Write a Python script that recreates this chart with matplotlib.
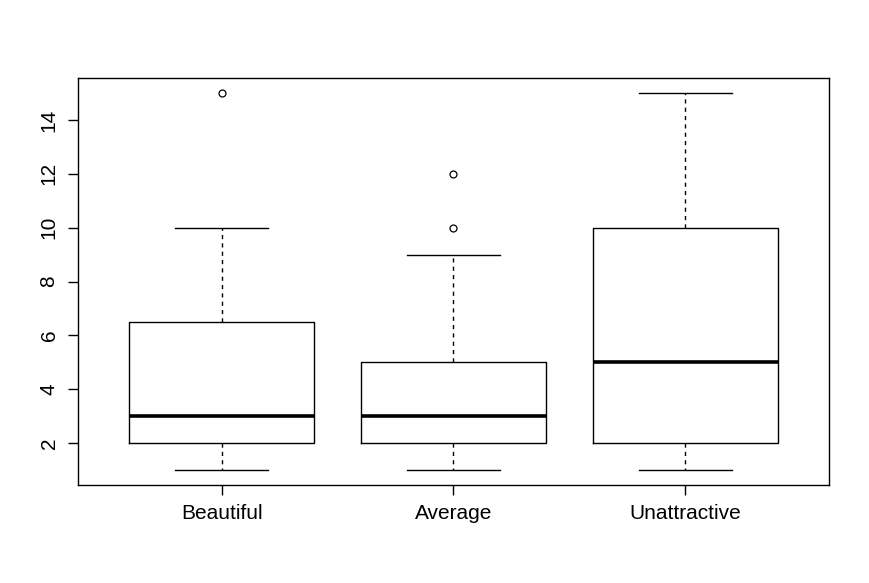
import matplotlib
matplotlib.use("Agg")
import matplotlib.pyplot as plt

plt.rcParams["font.family"] = ["Liberation Sans", "DejaVu Sans"]

# Box statistics
groups = ["Beautiful", "Average", "Unattractive"]
whisker_low = [1, 1, 1]
q1 = [2, 2, 2]
medians = [3, 3, 5]
q3 = [6.5, 5, 10]
whisker_high = [10, 9, 15]
outliers = [[15], [10, 12], []]

stats = []
for i, name in enumerate(groups):
    stats.append({
        "label": name,
        "whislo": whisker_low[i],
        "q1": q1[i],
        "med": medians[i],
        "q3": q3[i],
        "whishi": whisker_high[i],
        "fliers": outliers[i],
    })

fig = plt.figure(figsize=(8.7, 5.83), dpi=100)
ax = fig.add_axes([78 / 870, (583 - 485) / 583, (829 - 78) / 870, (485 - 78) / 583])

ax.bxp(
    stats,
    positions=[1, 2, 3],
    widths=0.8,
    capwidths=0.4,
    boxprops=dict(color="black", linewidth=1),
    medianprops=dict(color="black", linewidth=2.6, solid_capstyle="butt"),
    whiskerprops=dict(color="black", linewidth=1, linestyle=(0, (3, 3))),
    capprops=dict(color="black", linewidth=1),
    flierprops=dict(marker="o", markersize=5, markerfacecolor="none",
                    markeredgecolor="black", markeredgewidth=0.9),
)

ax.set_xlim(0.38, 3.62)
ax.set_ylim(0.44, 15.56)
ax.set_yticks([2, 4, 6, 8, 10, 12, 14])
ax.set_xticks([1, 2, 3])
ax.set_xticklabels(groups)
ax.tick_params(axis="both", direction="out", length=7, width=1, labelsize=15, pad=7)
for lab in ax.get_yticklabels():
    lab.set_rotation(90)
    lab.set_va("center")
for s in ax.spines.values():
    s.set_linewidth(1)

fig.savefig("out.png", dpi=100)
